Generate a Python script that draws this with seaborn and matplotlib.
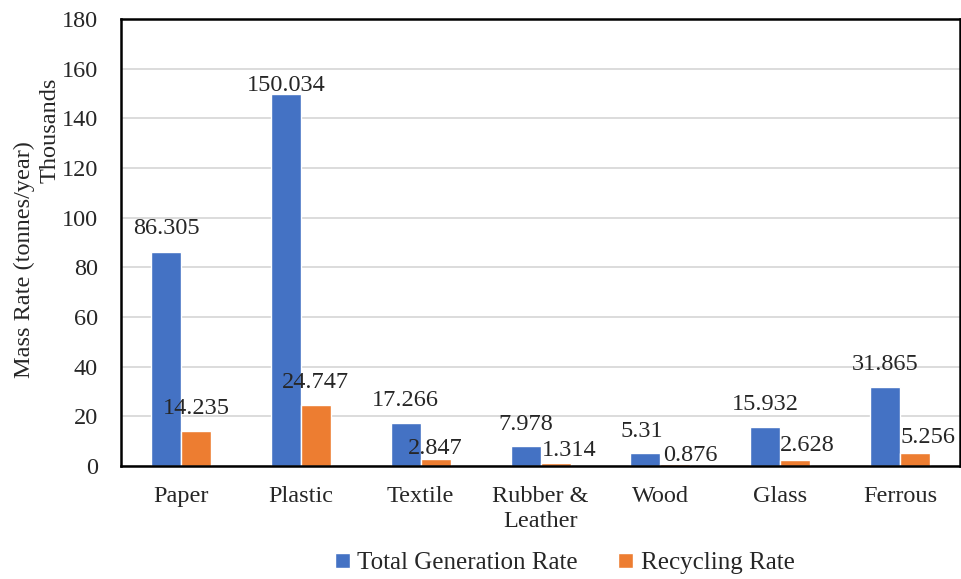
import matplotlib
matplotlib.use("Agg")
import matplotlib.pyplot as plt
import seaborn as sns
import pandas as pd

categories = ["Paper", "Plastic", "Textile", "Rubber &\nLeather", "Wood", "Glass", "Ferrous"]
total_generation = [86.305, 150.034, 17.266, 7.978, 5.31, 15.932, 31.865]
recycling = [14.235, 24.747, 2.847, 1.314, 0.876, 2.628, 5.256]
series_names = ["Total Generation Rate", "Recycling Rate"]
y_ticks = [0, 20, 40, 60, 80, 100, 120, 140, 160, 180]

# hand-placed data label offsets (pixels: right, up from bar top)
total_label_offsets = [(0, 18), (0, 3), (0, 17), (0, 16), (-4, 16), (0, 17), (0, 17)]
recycling_label_offsets = [(0, 17), (0, 17), (0, 5), (14, 7), (15, 3), (12, 9), (13, 10)]

df = pd.DataFrame({
    "Material": categories * 2,
    "Rate": total_generation + recycling,
    "Series": [series_names[0]] * len(categories) + [series_names[1]] * len(categories),
})

sns.set_theme(style="white")
plt.rcParams["font.family"] = ["Liberation Serif", "DejaVu Serif"]
FS = 17.5
TXT = "#262626"

fig = plt.figure(figsize=(9.62, 5.79), dpi=100)
ax = fig.add_axes([0.1258, 0.195, 0.8722, 0.772])

palette = {series_names[0]: "#4472C4", series_names[1]: "#ED7D31"}
sns.barplot(data=df, x="Material", y="Rate", hue="Series", palette=palette,
            width=0.5, saturation=1, ax=ax, legend=True, order=categories,
            hue_order=series_names)

ax.set_ylim(0, 180)
ax.set_yticks(y_ticks)
ax.grid(axis="y", color="#D9D9D9", linewidth=1.3)
ax.set_axisbelow(True)
for s in ax.spines.values():
    s.set_visible(True)
    s.set_color("black")
    s.set_linewidth(1.8)
ax.tick_params(axis="both", length=0, labelsize=FS, colors=TXT)
ax.tick_params(axis="y", pad=16.5)
ax.tick_params(axis="x", pad=14)
for lbl in ax.get_xticklabels():
    lbl.set_linespacing(1.25)
ax.set_xlabel("")
ax.set_ylabel("")

for container, vals, offsets in zip(ax.containers, [total_generation, recycling],
                                    [total_label_offsets, recycling_label_offsets]):
    for bar, v, (dx, dy) in zip(container, vals, offsets):
        ax.annotate(f"{v:g}", xy=(bar.get_x() + bar.get_width() / 2, bar.get_height()),
                    xytext=(dx, dy), textcoords="offset pixels",
                    ha="center", va="baseline", fontsize=FS, color=TXT)

fig.text(0.025, 0.551, "Mass Rate (tonnes/year)", rotation=90, ha="center", va="center",
         fontsize=FS, color=TXT)
fig.text(0.052, 0.775, "Thousands", rotation=90, ha="center", va="center",
         fontsize=FS, color=TXT)

handles, labels = ax.get_legend_handles_labels()
ax.get_legend().remove()
fig.legend(handles, labels, loc="center", bbox_to_anchor=(0.587, 0.027), ncol=2,
           frameon=False, prop={"size": 18}, handlelength=0.6, handleheight=0.6,
           handletextpad=0.3, columnspacing=1.6)

fig.savefig("out.png", dpi=100)
